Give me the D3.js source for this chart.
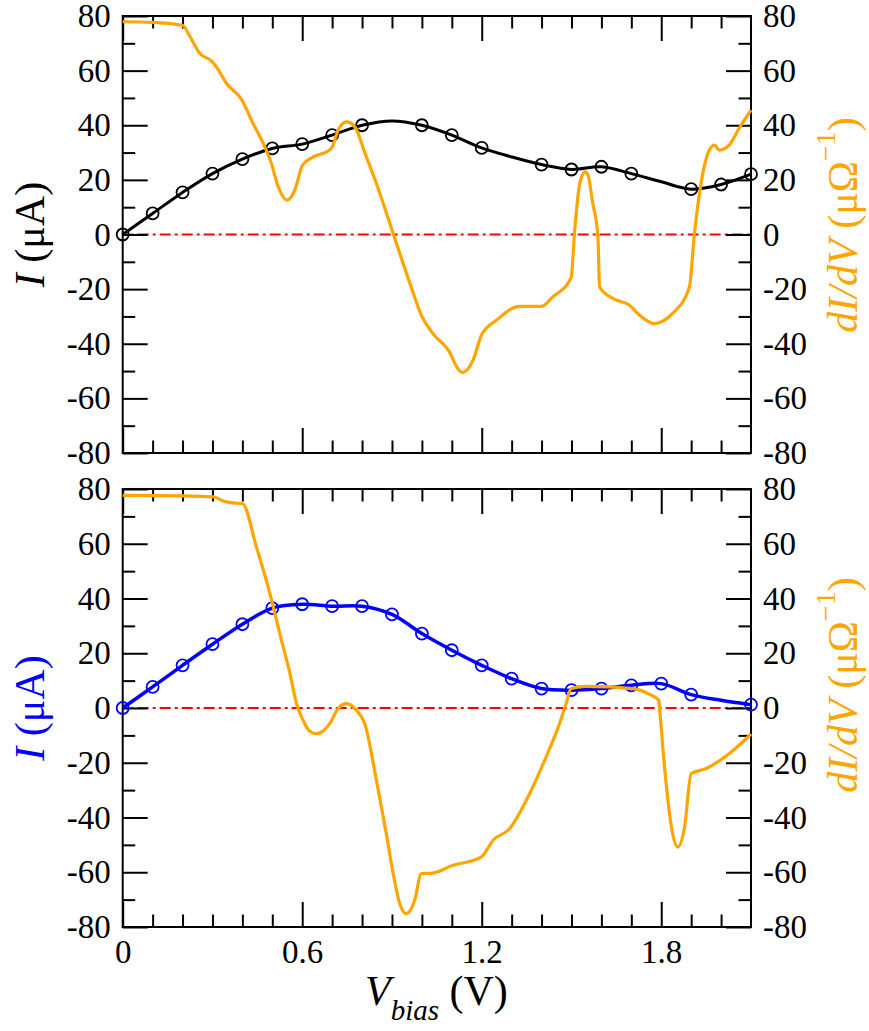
<!DOCTYPE html>
<html>
<head>
<meta charset="utf-8">
<script src="https://cdn.jsdelivr.net/npm/d3@7"></script>
<style>
  body { margin: 0; background: #fff; }
  svg { display: block; }
  text { font-family: "Liberation Serif", "Times New Roman", serif; fill: #000; }
</style>
</head>
<body>
<svg id="chart" width="869" height="1031"></svg>
<script>
// Bias voltage grid (V)
const vbias = [0, 0.1, 0.2, 0.3, 0.4, 0.5, 0.6, 0.7, 0.8, 0.9, 1.0,
               1.1, 1.2, 1.3, 1.4, 1.5, 1.6, 1.7, 1.8, 1.9, 2.0, 2.1];

// Current I (µA), upper device
const topCurrent = [0, 7.7, 15.4, 22.3, 27.6, 31.5, 33.1, 36.4, 40.0, 41.6, 40.0,
                    36.4, 31.7, 28.4, 25.6, 23.8, 24.8, 22.3, 19.3, 16.6, 18.3, 22.1];
const topUnmarked = [0.9, 1.3, 1.8];

// Current I (µA), lower device
const bottomCurrent = [0, 7.7, 15.6, 23.3, 30.6, 36.5, 37.9, 37.2, 37.2, 34.2, 27.2,
                       21.1, 15.6, 10.7, 7.1, 6.5, 7.1, 8.3, 8.9, 4.9, 2.8, 1.2];
const bottomUnmarked = [2.0];

// Differential conductance dI/dV (µΩ^-1), upper device
const topDidvV = [0, 0.1, 0.2, 0.225, 0.258, 0.297, 0.313, 0.347, 0.397, 0.436, 0.47,
                  0.497, 0.52, 0.55, 0.575, 0.601, 0.637, 0.692, 0.703, 0.72, 0.748,
                  0.776, 0.81, 0.848, 0.904, 0.96, 1.0, 1.037, 1.098, 1.11, 1.137,
                  1.171, 1.199, 1.249, 1.327, 1.399, 1.438, 1.499, 1.51, 1.525, 1.537,
                  1.546, 1.556, 1.57, 1.588, 1.594, 1.638, 1.694, 1.727, 1.777, 1.838,
                  1.894, 1.911, 1.933, 1.961, 1.978, 1.994, 2.027, 2.06, 2.1];
const topDidv = [77.9, 77.7, 76.6, 72.4, 66.3, 63.5, 61.4, 55.3, 49.5, 40.6, 33.3,
                 26.0, 17.4, 12.6, 16.2, 25.4, 28.4, 30.9, 32.7, 38.2, 41.2,
                 39.4, 29.7, 18.7, 0.4, -17.9, -30.0, -36.3, -44.2, -47.2, -50.5,
                 -46.0, -36.9, -31.4, -26.3, -26.3, -22.8, -15.8, 0.4, 17.0, 22.0,
                 22.9, 21.5, 12.0, 0.0, -19.2, -23.4, -25.9, -29.5, -32.6, -28.9,
                 -19.2, 0.4, 18.7, 30.9, 32.7, 30.9, 32.7, 38.8, 45.5];

// Differential conductance dI/dV (µΩ^-1), lower device
const bottomDidvV = [0, 0.2, 0.303, 0.336, 0.369, 0.4, 0.447, 0.492, 0.525, 0.559,
                     0.581, 0.603, 0.625, 0.648, 0.672, 0.692, 0.72, 0.748, 0.781, 0.809,
                     0.848, 0.881, 0.904, 0.926, 0.948, 0.976, 0.998, 1.037, 1.098, 1.199,
                     1.238, 1.293, 1.36, 1.415, 1.46, 1.482, 1.499, 1.549, 1.705, 1.761,
                     1.792, 1.794, 1.811, 1.838, 1.855, 1.878, 1.9, 1.95, 2.027, 2.1];
const bottomDidv = [77.7, 77.5, 77.1, 75.6, 74.9, 74.7, 58.8, 41.8, 27.2, 12.6,
                    1.6, -4.5, -8.5, -9.4, -8.2, -5.7, -0.2, 1.6, -0.8, -5.7,
                    -26.4, -45.9, -60.5, -71.5, -75.1, -70.2, -60.5, -60.3, -57.7, -54.4,
                    -48.3, -44.1, -31.3, -17.9, -5.7, 1.6, 7.1, 7.9, 7.1, 5.0,
                    2.8, 0.4, -21.6, -45.9, -50.8, -43.5, -24.0, -22.1, -16.7, -9.5];

// Axis ticks
const xMajorTicks = [0, 0.6, 1.2, 1.8];
const xMinorTicks = [0.1, 0.2, 0.3, 0.4, 0.5, 0.7, 0.8, 0.9, 1.0, 1.1,
                     1.3, 1.4, 1.5, 1.6, 1.7, 1.9, 2.0];
const yMajorTicks = [-80, -60, -40, -20, 0, 20, 40, 60, 80];
const yMinorTicks = [-70, -50, -30, -10, 10, 30, 50, 70];

const ORANGE = "#FFA500";
const svg = d3.select("#chart");

const x = d3.scaleLinear().domain([0, 2.1]).range([122.7, 751]);

const panels = [
  { top: 16, bottom: 453, current: topCurrent, unmarked: topUnmarked, color: "#000000",
    width: 3, didvV: topDidvV, didv: topDidv, showX: false, rightTitleY: 225 },
  { top: 489, bottom: 927, current: bottomCurrent, unmarked: bottomUnmarked, color: "#0000FF",
    width: 3.5, didvV: bottomDidvV, didv: bottomDidv, showX: true, rightTitleY: 685 }
];

const fmt = d => String(d);

panels.forEach(p => {
  const y = d3.scaleLinear().domain([-80, 80]).range([p.bottom, p.top]);
  const g = svg.append("g");

  // zero reference line
  g.append("line")
    .attr("x1", x(0)).attr("x2", x(2.1))
    .attr("y1", y(0)).attr("y2", y(0))
    .attr("stroke", "#FF0000").attr("stroke-width", 2)
    .attr("stroke-dasharray", "11,4,3,4")
    .attr("stroke-dashoffset", -15);

  // axes: ticks point inward on all four sides
  const addAxis = (axis, transform, labels) => {
    const a = g.append("g").attr("transform", transform).call(axis);
    a.select(".domain").remove();
    a.selectAll(".tick line").attr("stroke", "#000").attr("stroke-width", 2);
    a.selectAll("text").attr("font-size", 33).attr("font-family", "Liberation Serif").attr("fill", "#000");
    if (!labels) a.selectAll("text").remove();
    return a;
  };

  addAxis(d3.axisBottom(x).tickValues(xMajorTicks).tickSize(-25).tickPadding(13).tickFormat(fmt),
          `translate(0,${p.bottom})`, p.showX);
  addAxis(d3.axisBottom(x).tickValues(xMinorTicks).tickSize(-12.5).tickFormat(""),
          `translate(0,${p.bottom})`, false);
  addAxis(d3.axisTop(x).tickValues(xMajorTicks).tickSize(-25).tickFormat(""),
          `translate(0,${p.top})`, false);
  addAxis(d3.axisTop(x).tickValues(xMinorTicks).tickSize(-12.5).tickFormat(""),
          `translate(0,${p.top})`, false);
  addAxis(d3.axisLeft(y).tickValues(yMajorTicks).tickSize(-25).tickPadding(12).tickFormat(fmt),
          `translate(${x(0)},0)`, true);
  addAxis(d3.axisLeft(y).tickValues(yMinorTicks).tickSize(-12.5).tickFormat(""),
          `translate(${x(0)},0)`, false);
  addAxis(d3.axisRight(y).tickValues(yMajorTicks).tickSize(-25).tickPadding(12).tickFormat(fmt),
          `translate(${x(2.1)},0)`, true);
  addAxis(d3.axisRight(y).tickValues(yMinorTicks).tickSize(-12.5).tickFormat(""),
          `translate(${x(2.1)},0)`, false);

  // frame
  g.append("rect")
    .attr("x", x(0)).attr("y", p.top)
    .attr("width", x(2.1) - x(0)).attr("height", p.bottom - p.top)
    .attr("fill", "none").attr("stroke", "#000").attr("stroke-width", 2);

  // current curve with open circle markers
  const iPts = vbias.map((v, i) => [v, p.current[i]]);
  g.append("path")
    .datum(iPts)
    .attr("fill", "none").attr("stroke", p.color).attr("stroke-width", p.width)
    .attr("stroke-linejoin", "round")
    .attr("d", d3.line().x(d => x(d[0])).y(d => y(d[1])).curve(d3.curveCatmullRom.alpha(0.5)));
  g.selectAll("circle.marker")
    .data(iPts.filter(d => !p.unmarked.includes(d[0])))
    .join("circle")
    .attr("class", "marker")
    .attr("cx", d => x(d[0])).attr("cy", d => y(d[1])).attr("r", 6)
    .attr("fill", "none").attr("stroke", p.color).attr("stroke-width", 1.8);

  // dI/dV curve
  const gPts = p.didvV.map((v, i) => [v, p.didv[i]]);
  g.append("path")
    .datum(gPts)
    .attr("fill", "none").attr("stroke", ORANGE).attr("stroke-width", 3.2)
    .attr("stroke-linejoin", "round")
    .attr("d", d3.line().x(d => x(d[0])).y(d => y(d[1])).curve(d3.curveMonotoneX));

  // left title: I (µA)
  const lt = g.append("text")
    .attr("transform", `translate(44,${(p.top + p.bottom) / 2}) rotate(-90)`)
    .attr("text-anchor", "middle").attr("font-size", 42)
    .style("fill", p.color);
  lt.append("tspan").attr("font-style", "italic").text("I");
  lt.append("tspan").text(" (μA)");

  // right title: dI/dV (µΩ^-1)
  const rt = g.append("text")
    .attr("transform", `translate(857,${p.rightTitleY}) rotate(-90)`)
    .attr("text-anchor", "middle").attr("font-size", 42)
    .style("fill", ORANGE);
  rt.append("tspan").attr("font-style", "italic").text("dI/dV");
  rt.append("tspan").text(" (μΩ");
  rt.append("tspan").attr("font-size", 28).attr("dy", -22).text("−1");
  rt.append("tspan").attr("dy", 22).text(")");
});

// x axis title: V_bias (V)
const xt = svg.append("text")
  .attr("x", 365).attr("y", 1005)
  .attr("font-size", 42);
xt.append("tspan").attr("font-style", "italic").text("V");
xt.append("tspan").attr("font-style", "italic").attr("font-size", 29).attr("dy", 15).text("bias");
xt.append("tspan").attr("dy", -15).text(" (V)");
</script>
</body>
</html>
